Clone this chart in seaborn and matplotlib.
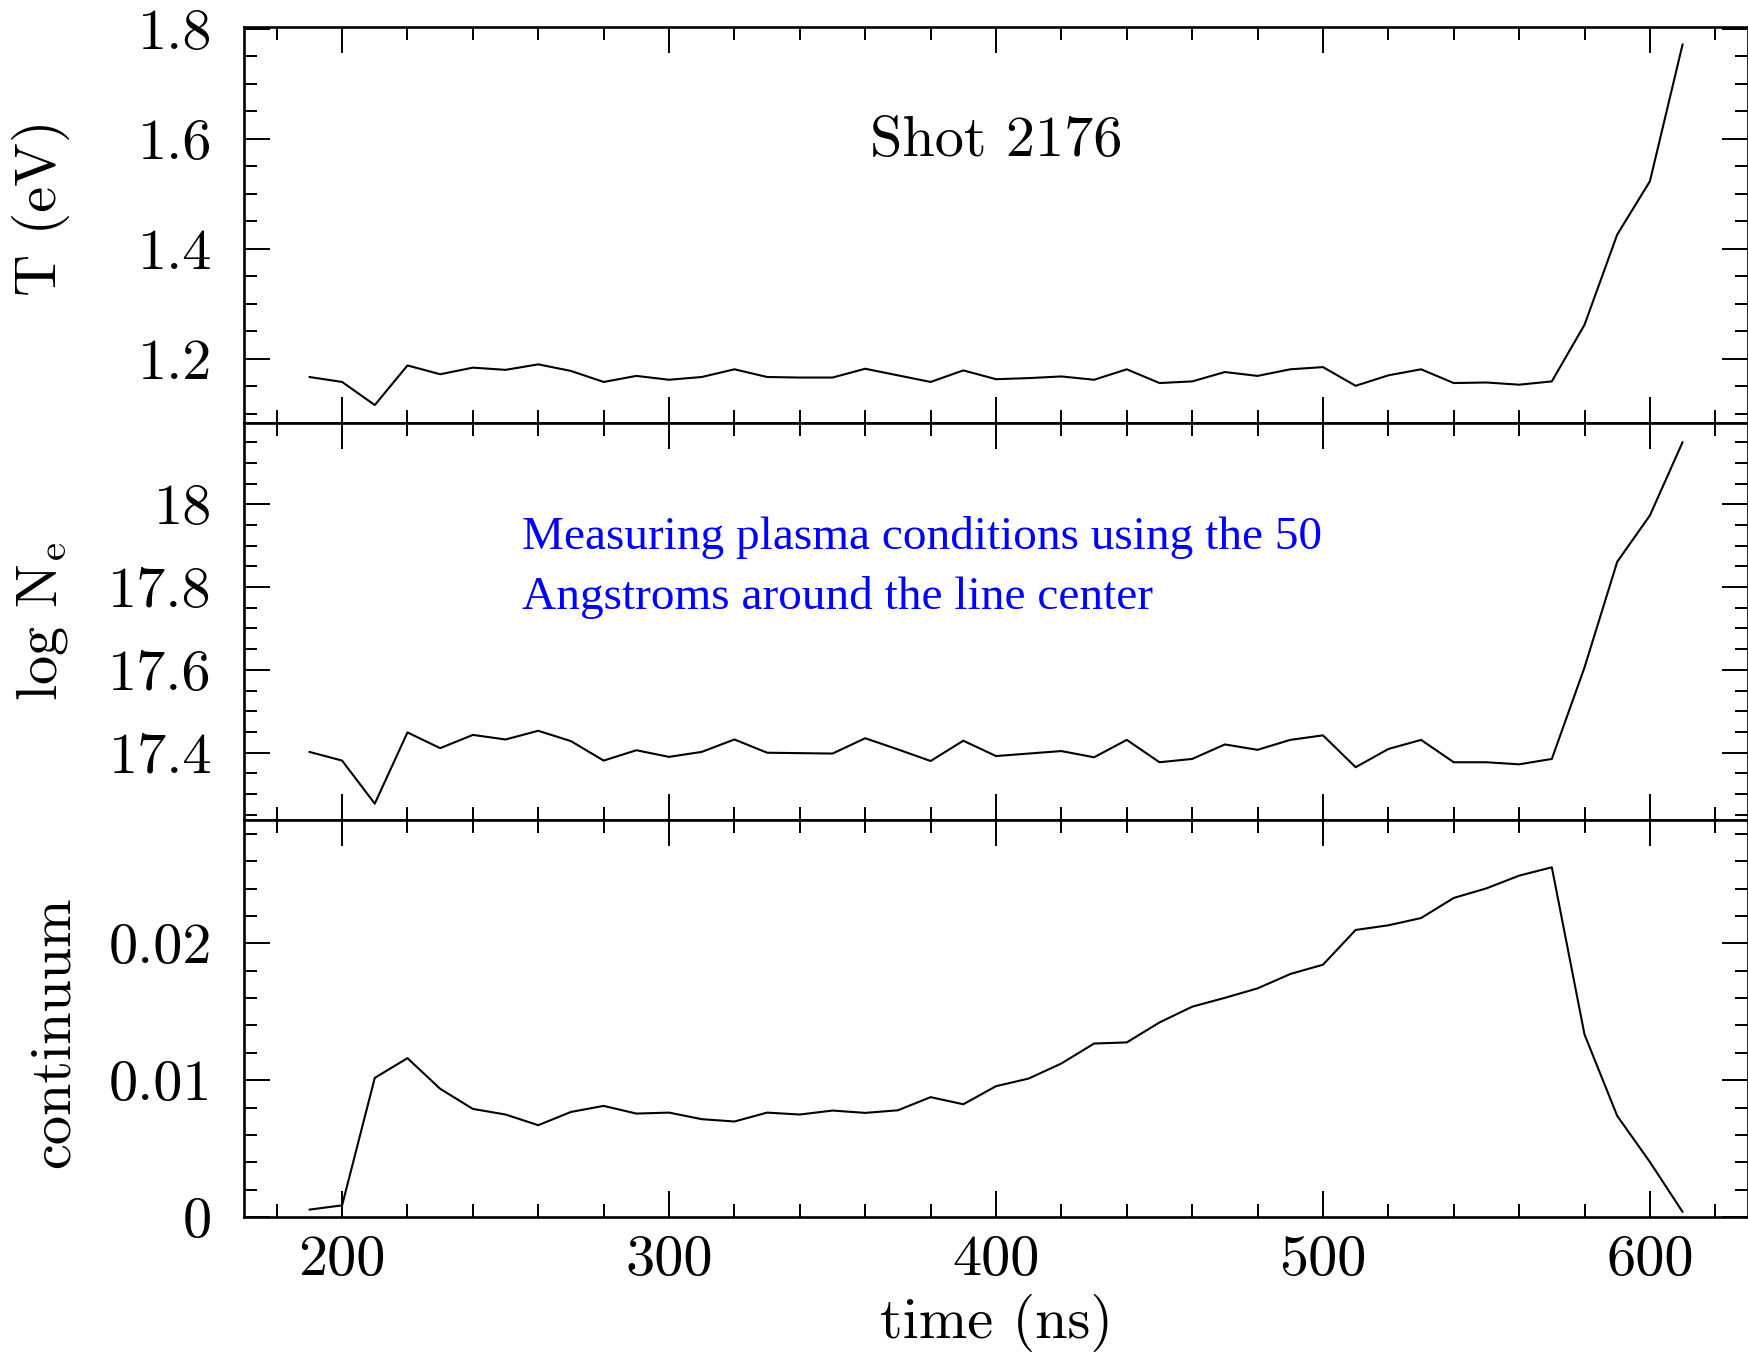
import matplotlib
matplotlib.use("Agg")
import matplotlib.pyplot as plt
import seaborn as sns
import pandas as pd
from matplotlib.ticker import MultipleLocator, FormatStrFormatter

# ---------------- data ----------------
time_ns = [190, 200, 210, 220, 230, 240, 250, 260, 270, 280,
           290, 300, 310, 320, 330, 340, 350, 360, 370, 380,
           390, 400, 410, 420, 430, 440, 450, 460, 470, 480,
           490, 500, 510, 520, 530, 540, 550, 560, 570, 580,
           590, 600, 610]

temperature_ev = [1.167, 1.158, 1.116, 1.188, 1.172, 1.184, 1.180, 1.190, 1.178, 1.158,
                  1.169, 1.162, 1.167, 1.181, 1.167, 1.166, 1.166, 1.182, 1.170, 1.158,
                  1.179, 1.163, 1.165, 1.168, 1.162, 1.181, 1.156, 1.159, 1.176, 1.169,
                  1.181, 1.185, 1.151, 1.170, 1.181, 1.156, 1.157, 1.153, 1.159, 1.262,
                  1.426, 1.523, 1.772]

log_ne = [17.402, 17.381, 17.277, 17.449, 17.411, 17.443, 17.432, 17.453, 17.428, 17.381,
          17.406, 17.390, 17.402, 17.432, 17.400, 17.399, 17.398, 17.435, 17.408, 17.380,
          17.429, 17.392, 17.398, 17.404, 17.389, 17.431, 17.377, 17.385, 17.420, 17.407,
          17.431, 17.442, 17.365, 17.409, 17.431, 17.377, 17.377, 17.372, 17.385, 17.606,
          17.861, 17.973, 18.150]

continuum = [0.00054, 0.00085, 0.01017, 0.01161, 0.00937, 0.00790, 0.00749, 0.00671, 0.00768, 0.00812,
             0.00756, 0.00763, 0.00715, 0.00698, 0.00763, 0.00749, 0.00778, 0.00761, 0.00780, 0.00876,
             0.00824, 0.00956, 0.01012, 0.01122, 0.01268, 0.01276, 0.01422, 0.01537, 0.01602, 0.01671,
             0.01776, 0.01844, 0.02098, 0.02132, 0.02185, 0.02332, 0.02402, 0.02495, 0.02556, 0.01334,
             0.00739, 0.00402, 0.00037]

ylabels = ["T (eV)", r"log N$_{\mathrm{e}}$", "continuum"]
xlabel = "time (ns)"
shot_text = "Shot 2176"
note_lines = ["Measuring plasma conditions using the 50",
              "Angstroms around the line center"]

# ---------------- style ----------------
sns.set_theme(style="ticks")
plt.rcParams["font.family"] = ["cmr10", "DejaVu Serif"]
plt.rcParams["mathtext.fontset"] = "cm"
plt.rcParams["axes.unicode_minus"] = False
plt.rcParams["axes.formatter.use_mathtext"] = True
for k in ["text.color", "axes.labelcolor", "xtick.color", "ytick.color",
          "axes.edgecolor", "xtick.labelcolor", "ytick.labelcolor"]:
    plt.rcParams[k] = "black"

df = pd.DataFrame({"time": time_ns, "T": temperature_ev,
                   "logNe": log_ne, "cont": continuum})

fig, axes = plt.subplots(3, 1, figsize=(17.48, 13.53), dpi=100, sharex=True)
fig.subplots_adjust(left=244 / 1748, right=1.0, top=1 - 26.7 / 1353,
                    bottom=1 - 1217 / 1353, hspace=0)

cols = ["T", "logNe", "cont"]
ylims = [(1.0825, 1.804), (17.237, 18.195), (0.0, 0.029)]
majors = [0.2, 0.2, 0.01]
minors = [0.05, 0.05, 0.002]
label_xy = [(-0.1157, 0.544), (-0.116, 0.5), (-0.109, 0.465)]

FS = 42
for ax, col, yl, mj, mn, lab, lxy in zip(axes, cols, ylims, majors, minors, ylabels, label_xy):
    sns.lineplot(data=df, x="time", y=col, ax=ax, color="black", linewidth=1.5)
    ax.set_xlim(170, 630)
    ax.set_ylim(*yl)
    ax.yaxis.set_major_locator(MultipleLocator(mj))
    ax.yaxis.set_minor_locator(MultipleLocator(mn))
    ax.xaxis.set_major_locator(MultipleLocator(100))
    ax.xaxis.set_minor_locator(MultipleLocator(20))
    ax.yaxis.set_major_formatter(FormatStrFormatter("%g"))
    ax.xaxis.set_major_formatter(FormatStrFormatter("%g"))
    ax.tick_params(which="both", direction="in", top=True, right=True,
                   color="black", labelcolor="black", width=1.4)
    ax.tick_params(which="major", length=18.5)
    ax.tick_params(which="minor", length=9.4)
    ax.tick_params(axis="y", which="major", labelsize=FS, pad=23)
    ax.tick_params(axis="x", which="major", labelsize=FS, pad=13)
    for s in ax.spines.values():
        s.set_linewidth(1.9)
        s.set_color("black")
    ax.set_ylabel(lab, fontsize=FS, color="black")
    ax.yaxis.set_label_coords(*lxy)
    ax.set_xlabel("")

axes[2].set_xlabel(xlabel, fontsize=FS, va="top", color="black")
axes[2].xaxis.set_label_coords(0.5, -0.193)

axes[0].text(400, 1.569, shot_text, ha="center", va="baseline",
             fontsize=FS, color="black")

axes[1].text(255, 17.891, note_lines[0], ha="left", va="baseline",
             fontsize=34, color="#0000ff", family=["Liberation Serif"])
axes[1].text(255, 17.748, note_lines[1], ha="left", va="baseline",
             fontsize=34, color="#0000ff", family=["Liberation Serif"])

fig.savefig("out.png", dpi=100)
